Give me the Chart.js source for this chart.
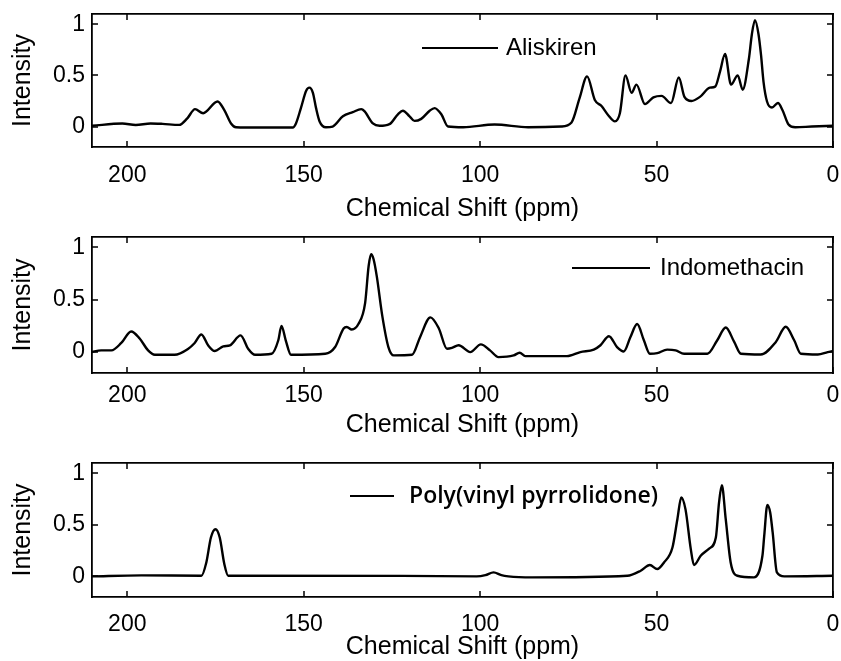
<!DOCTYPE html>
<html>
<head>
<meta charset="utf-8">
<script src="https://cdn.jsdelivr.net/npm/chart.js"></script>
<style>
  body { margin: 0; background: #fff; }
  #wrap { position: relative; width: 841px; height: 661px; }
  .panel { position: absolute; left: 0; width: 841px; }
</style>
</head>
<body>
<div id="wrap">
  <div class="panel" style="top:0;height:228px"><canvas id="c1"></canvas></div>
  <div class="panel" style="top:228px;height:216px"><canvas id="c2"></canvas></div>
  <div class="panel" style="top:444px;height:217px"><canvas id="c3"></canvas></div>
</div>
<script>
// 13C solid-state NMR spectra, shift in ppm, normalised intensity
const xTicks = [200, 150, 100, 50, 0];
const yTicks = [0, 0.5, 1];

const aliskirenShift = [210, 201.4, 197.6, 193.4, 190, 185.3, 183, 180.8, 178.5, 174.4, 172.5, 170.6, 169.2, 162.6, 153.1,
  152.2, 150.8, 149.3, 148.4, 147.4, 146.5, 145.5, 143.7, 141.8, 138.9, 136.1, 133.7, 132.8, 130.4, 128.5, 125.7, 123.3,
  121.9, 120, 118.6, 116.7, 114.3, 112.9, 111, 109.1, 104.8, 95.9, 86.4, 77, 74.1, 71.8, 69.7, 67.5, 65.6, 63.7, 61.8,
  60.4, 58.8, 57.1, 55.7, 53.3, 50.9, 48.6, 45.9, 43.7, 42.1, 40.1, 37.7, 34.9, 33.4, 32, 30.6, 28.9, 27, 25.6, 23.8,
  23, 22.1, 21.1, 20.4, 19.7, 18.7, 17.3, 15.6, 14.3, 12.6, 10.7, 6, 0];
const aliskirenIntensity = [0.007, 0.03, 0.015, 0.03, 0.026, 0.016, 0.08, 0.17, 0.13, 0.245, 0.16, 0.03, -0.007, -0.01, -0.01,
  0.03, 0.18, 0.35, 0.38, 0.33, 0.18, 0.05, -0.007, 0, 0.1, 0.14, 0.17, 0.15, 0.03, 0.007, 0.023, 0.12,
  0.155, 0.1, 0.055, 0.075, 0.155, 0.18, 0.12, 0, -0.007, 0.02, -0.007, 0, 0.04, 0.28, 0.49, 0.26, 0.2, 0.11, 0.05,
  0.13, 0.5, 0.33, 0.41, 0.22, 0.285, 0.3, 0.23, 0.48, 0.29, 0.25, 0.29, 0.38, 0.39, 0.54, 0.71, 0.41, 0.5, 0.36, 0.67,
  0.9, 1.04, 0.9, 0.7, 0.44, 0.245, 0.186, 0.23, 0.16, 0.02, -0.007, 0, 0.007];

const indomethacinShift = [210.2, 207.4, 204.5, 201.7, 198.9, 196.5, 194.1, 192.2, 186.6, 182.8, 180.9, 179, 177.1, 175.2,
  172.8, 170.9, 167.9, 165.7, 163.8, 159.1, 157.2, 156.3, 155.1, 153.6, 143.9, 141.1, 138.7, 137.8, 136.4, 134.5, 132.6,
  131.6, 130.9, 130.2, 129.3, 127.7, 126, 124.5, 119.3, 117, 114.1, 111.7, 109.4, 108, 106.1, 102.8, 99.8, 97.2, 94.8,
  90.5, 88.8, 87.2, 75.4, 71.6, 67.8, 65.9, 63.5, 61.2, 59.3, 57.4, 55.5, 53.6, 51.9, 49.8, 47, 44.6, 42.2, 35.6, 32.8,
  30.4, 28, 26.1, 20.5, 16.2, 13.4, 11, 9.1, 4.3, 1.5, 0];
const indomethacinIntensity = [0, 0.016, 0.016, 0.087, 0.197, 0.13, 0.016, -0.026, -0.026, 0.03, 0.087, 0.168, 0.065, 0.01,
  0.055, 0.065, 0.16, 0.03, -0.026, -0.016, 0.113, 0.25, 0.113, -0.026, -0.016, 0.048, 0.226, 0.24, 0.216, 0.268, 0.468,
  0.823, 0.935, 0.887, 0.726, 0.339, 0.048, -0.032, -0.026, 0.145, 0.332, 0.226, 0.032, 0.04, 0.065, 0, 0.074, 0.016, -0.048,
  -0.032, -0.006, -0.039, -0.039, 0, 0.023, 0.065, 0.152, 0.048, 0.006, 0.145, 0.268, 0.113, -0.016, -0.01, 0.023, 0.016,
  -0.016, -0.016, 0.113, 0.235, 0.097, -0.016, -0.023, 0.097, 0.242, 0.113, -0.016, -0.023, 0, 0.01];

const pvpShift = [210, 196, 179, 177.6, 176.3, 175, 173.8, 172.5, 171.4, 122.2, 101, 98.5, 96.2, 94, 92, 85.3, 58.3, 54.5,
  51.9, 49.8, 47.9, 45.5, 44.1, 43, 41.8, 40.3, 39.4, 37.5, 35.1, 33.2, 32.3, 31.5, 30.4, 29, 27.1, 22.4, 20, 19.5, 18.6,
  17.8, 17.1, 15.9, 13.8, 0];
const pvpIntensity = [0, 0.01, 0.006, 0.135, 0.377, 0.458, 0.377, 0.12, 0.006, 0.005, 0, 0.012, 0.039, 0.012, 0, -0.01, 0.006,
  0.055, 0.11, 0.071, 0.135, 0.28, 0.555, 0.765, 0.65, 0.265, 0.11, 0.2, 0.27, 0.377, 0.716, 0.884, 0.555, 0.135, 0.006,
  -0.01, 0.2, 0.39, 0.694, 0.62, 0.426, 0.039, 0, 0.006];

Chart.defaults.font.family = "'Liberation Sans', Arial, sans-serif";
Chart.defaults.color = '#000';

// frame ticks pointing into the plot, on all four sides
const inwardTicks = {
  id: 'inwardTicks',
  afterDraw(chart) {
    const {ctx, chartArea: a, scales} = chart;
    const len = 6;
    ctx.save();
    ctx.strokeStyle = '#000';
    ctx.lineWidth = 1.5;
    ctx.beginPath();
    scales.x.ticks.forEach(t => {
      const px = Math.round(scales.x.getPixelForValue(t.value));
      ctx.moveTo(px, a.bottom); ctx.lineTo(px, a.bottom - len);
      ctx.moveTo(px, a.top); ctx.lineTo(px, a.top + len);
    });
    scales.y.ticks.forEach(t => {
      const py = Math.round(scales.y.getPixelForValue(t.value));
      ctx.moveTo(a.left, py); ctx.lineTo(a.left + len, py);
      ctx.moveTo(a.right, py); ctx.lineTo(a.right - len, py);
    });
    ctx.stroke();
    ctx.restore();
  }
};

// legend entry: short line sample followed by the compound name
const specLegend = {
  id: 'specLegend',
  afterDraw(chart, args, opts) {
    const {ctx} = chart;
    ctx.save();
    ctx.strokeStyle = '#000';
    ctx.lineWidth = 2;
    ctx.beginPath();
    ctx.moveTo(opts.x0, opts.y);
    ctx.lineTo(opts.x1, opts.y);
    ctx.stroke();
    ctx.fillStyle = '#000';
    ctx.font = opts.font;
    ctx.textBaseline = 'middle';
    ctx.fillText(opts.label, opts.textX, opts.y);
    ctx.restore();
  }
};

function makeChart(id, shift, intensity, lay, legend) {
  const points = shift.map((s, i) => ({x: s, y: intensity[i]}));
  const setTicks = list => scale => { scale.ticks = list.map(v => ({value: v})); };
  new Chart(document.getElementById(id), {
    type: 'line',
    data: {
      datasets: [{
        label: legend.label,
        data: points,
        borderColor: '#000',
        borderWidth: 2.4,
        pointRadius: 0,
        cubicInterpolationMode: 'monotone',
        fill: false
      }]
    },
    options: {
      responsive: true,
      maintainAspectRatio: false,
      animation: false,
      layout: {padding: {top: lay.padTop, right: 8, left: 0, bottom: 0}},
      plugins: {
        legend: {display: false},
        tooltip: {enabled: false},
        specLegend: legend
      },
      scales: {
        x: {
          type: 'linear', position: 'bottom', reverse: true, min: 0, max: 210,
          afterBuildTicks: setTicks(xTicks),
          afterFit: s => { s.height = lay.xHeight; s.paddingLeft = 0; s.paddingRight = 0; },
          grid: {display: false, drawTicks: false},
          border: {display: true, color: '#000', width: 1.8},
          ticks: {padding: lay.tickPad, font: {size: 23}, maxRotation: 0, callback: v => String(v)},
          title: {display: true, text: 'Chemical Shift (ppm)', font: {size: 25, lineHeight: 1}, padding: {top: 0, bottom: lay.titlePad}}
        },
        x2: {
          type: 'linear', position: 'top', reverse: true, min: 0, max: 210,
          afterFit: s => { s.height = 0; s.paddingLeft = 0; s.paddingRight = 0; },
          grid: {display: false, drawTicks: false},
          border: {display: true, color: '#000', width: 1.8},
          ticks: {display: false}
        },
        y: {
          type: 'linear', position: 'left', min: -0.2, max: 1.1,
          afterBuildTicks: setTicks(yTicks),
          afterFit: s => { s.width = 92; s.paddingTop = 0; s.paddingBottom = 0; },
          grid: {display: false, drawTicks: false},
          border: {display: true, color: '#000', width: 1.8},
          ticks: {padding: 7, font: {size: 23}, callback: v => String(v)},
          title: {display: true, text: 'Intensity', font: {size: 25, lineHeight: 1}, padding: {top: 11, bottom: 0}}
        },
        y2: {
          type: 'linear', position: 'right', min: -0.2, max: 1.1,
          afterFit: s => { s.width = 0; s.paddingTop = 0; s.paddingBottom = 0; },
          grid: {display: false, drawTicks: false},
          border: {display: true, color: '#000', width: 1.8},
          ticks: {display: false}
        }
      }
    },
    plugins: [inwardTicks, specLegend]
  });
}

makeChart('c1', aliskirenShift, aliskirenIntensity,
  {padTop: 14, xHeight: 81, tickPad: 15, titlePad: 6},
  {label: 'Aliskiren', x0: 422, x1: 498, y: 48, textX: 506, font: "24px 'Liberation Sans', Arial, sans-serif"});
makeChart('c2', indomethacinShift, indomethacinIntensity,
  {padTop: 9, xHeight: 71, tickPad: 9, titlePad: 6},
  {label: 'Indomethacin', x0: 572, x1: 650, y: 40, textX: 660, font: "24px 'Liberation Sans', Arial, sans-serif"});
makeChart('c3', pvpShift, pvpIntensity,
  {padTop: 19, xHeight: 64, tickPad: 14, titlePad: 1},
  {label: 'Poly(vinyl pyrrolidone)', x0: 350, x1: 394, y: 52, textX: 409, font: "600 23px 'Open Sans', sans-serif"});
</script>
</body>
</html>
